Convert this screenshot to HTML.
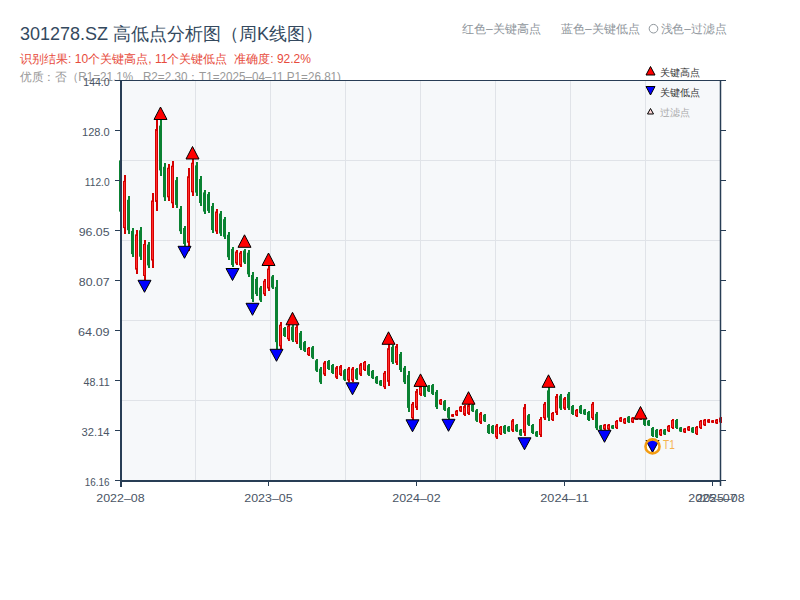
<!DOCTYPE html>
<html><head><meta charset="utf-8">
<style>
html,body{margin:0;padding:0;background:#fff;width:800px;height:600px;overflow:hidden;}
svg{position:absolute;left:0;top:0;}
text{font-family:"Liberation Sans",sans-serif;}
</style></head><body>
<svg width="800" height="600" viewBox="0 0 800 600">
<rect x="0" y="0" width="800" height="600" fill="#ffffff"/>
<text x="20" y="39.5" font-size="18" fill="#34495e">301278.SZ 高低点分析图（周K线图）</text>
<text x="462" y="33" font-size="12" fill="#8f969c" textLength="79" lengthAdjust="spacingAndGlyphs">红色–关键高点</text>
<text x="561" y="33" font-size="12" fill="#8f969c" textLength="79" lengthAdjust="spacingAndGlyphs">蓝色–关键低点</text>
<circle cx="653.5" cy="28.7" r="4.3" fill="none" stroke="#8f969c" stroke-width="1"/>
<text x="660.5" y="33" font-size="12" fill="#8f969c" textLength="66" lengthAdjust="spacingAndGlyphs">浅色–过滤点</text>
<text x="20" y="63" font-size="12" fill="#e74c3c" xml:space="preserve" textLength="291" lengthAdjust="spacingAndGlyphs">识别结果: 10个关键高点, 11个关键低点  准确度: 92.2%</text>
<text x="20" y="81" font-size="12" fill="#999999" xml:space="preserve" textLength="321" lengthAdjust="spacingAndGlyphs">优质：否（R1=21.1%   R2=2.30；T1=2025–04–11 P1=26.81)</text>
<rect x="121" y="80" width="599" height="401" fill="#f6f8fa"/>
<line x1="195.5" y1="81" x2="195.5" y2="480" stroke="#e0e3e8" stroke-width="1"/>
<line x1="270.5" y1="81" x2="270.5" y2="480" stroke="#e0e3e8" stroke-width="1"/>
<line x1="345.5" y1="81" x2="345.5" y2="480" stroke="#e0e3e8" stroke-width="1"/>
<line x1="420.5" y1="81" x2="420.5" y2="480" stroke="#e0e3e8" stroke-width="1"/>
<line x1="495.5" y1="81" x2="495.5" y2="480" stroke="#e0e3e8" stroke-width="1"/>
<line x1="570.5" y1="81" x2="570.5" y2="480" stroke="#e0e3e8" stroke-width="1"/>
<line x1="645.5" y1="81" x2="645.5" y2="480" stroke="#e0e3e8" stroke-width="1"/>
<line x1="122" y1="160.5" x2="720" y2="160.5" stroke="#e0e3e8" stroke-width="1"/>
<line x1="122" y1="240.5" x2="720" y2="240.5" stroke="#e0e3e8" stroke-width="1"/>
<line x1="122" y1="320.5" x2="720" y2="320.5" stroke="#e0e3e8" stroke-width="1"/>
<line x1="122" y1="400.5" x2="720" y2="400.5" stroke="#e0e3e8" stroke-width="1"/>
<g>
<rect x="120.00" y="154.0" width="2" height="64.0" fill="#0a8232"/>
<rect x="119.00" y="160.40" width="3" height="51.20" fill="#0a8232"/>
<rect x="124.00" y="175.0" width="2" height="59.0" fill="#d40000"/>
<rect x="123.50" y="181.40" width="2" height="46.20" fill="#ff2e2e" stroke="#d40000" stroke-width="1"/>
<rect x="128.00" y="196.0" width="2" height="38.0" fill="#0a8232"/>
<rect x="127.00" y="199.80" width="3" height="30.40" fill="#0a8232"/>
<rect x="132.00" y="228.0" width="2" height="29.0" fill="#0a8232"/>
<rect x="131.00" y="230.90" width="3" height="23.20" fill="#0a8232"/>
<rect x="136.00" y="230.0" width="2" height="44.0" fill="#d40000"/>
<rect x="135.50" y="234.90" width="2" height="34.20" fill="#ff2e2e" stroke="#d40000" stroke-width="1"/>
<rect x="140.00" y="227.0" width="2" height="33.0" fill="#0a8232"/>
<rect x="139.00" y="230.30" width="3" height="26.40" fill="#0a8232"/>
<rect x="144.00" y="240.0" width="2" height="40.0" fill="#d40000"/>
<rect x="143.50" y="244.50" width="2" height="31.00" fill="#ff2e2e" stroke="#d40000" stroke-width="1"/>
<rect x="148.00" y="242.0" width="2" height="26.0" fill="#0a8232"/>
<rect x="147.00" y="244.60" width="3" height="20.80" fill="#0a8232"/>
<rect x="152.00" y="193.0" width="2" height="75.0" fill="#d40000"/>
<rect x="151.50" y="201.00" width="2" height="59.00" fill="#ff2e2e" stroke="#d40000" stroke-width="1"/>
<rect x="156.00" y="120.0" width="2" height="91.0" fill="#d40000"/>
<rect x="155.50" y="129.60" width="2" height="71.80" fill="#ff2e2e" stroke="#d40000" stroke-width="1"/>
<rect x="160.00" y="120.0" width="2" height="56.0" fill="#0a8232"/>
<rect x="159.00" y="125.60" width="3" height="44.80" fill="#0a8232"/>
<rect x="164.00" y="163.0" width="2" height="38.0" fill="#0a8232"/>
<rect x="163.00" y="166.80" width="3" height="30.40" fill="#0a8232"/>
<rect x="168.00" y="164.0" width="2" height="37.0" fill="#d40000"/>
<rect x="167.50" y="168.20" width="2" height="28.60" fill="#ff2e2e" stroke="#d40000" stroke-width="1"/>
<rect x="172.00" y="161.0" width="2" height="47.0" fill="#d40000"/>
<rect x="171.50" y="166.20" width="2" height="36.60" fill="#ff2e2e" stroke="#d40000" stroke-width="1"/>
<rect x="176.00" y="177.0" width="2" height="31.0" fill="#0a8232"/>
<rect x="175.00" y="180.10" width="3" height="24.80" fill="#0a8232"/>
<rect x="180.00" y="206.0" width="2" height="28.0" fill="#0a8232"/>
<rect x="179.00" y="208.80" width="3" height="22.40" fill="#0a8232"/>
<rect x="184.00" y="226.0" width="2" height="20.0" fill="#0a8232"/>
<rect x="183.00" y="228.00" width="3" height="16.00" fill="#0a8232"/>
<rect x="188.00" y="168.0" width="2" height="83.0" fill="#d40000"/>
<rect x="187.50" y="176.80" width="2" height="65.40" fill="#ff2e2e" stroke="#d40000" stroke-width="1"/>
<rect x="192.00" y="159.0" width="2" height="37.0" fill="#d40000"/>
<rect x="191.50" y="163.20" width="2" height="28.60" fill="#ff2e2e" stroke="#d40000" stroke-width="1"/>
<rect x="196.00" y="162.0" width="2" height="34.0" fill="#0a8232"/>
<rect x="195.00" y="165.40" width="3" height="27.20" fill="#0a8232"/>
<rect x="200.00" y="176.0" width="2" height="30.0" fill="#0a8232"/>
<rect x="199.00" y="179.00" width="3" height="24.00" fill="#0a8232"/>
<rect x="204.00" y="190.0" width="2" height="24.0" fill="#0a8232"/>
<rect x="203.00" y="192.40" width="3" height="19.20" fill="#0a8232"/>
<rect x="208.00" y="192.0" width="2" height="21.0" fill="#0a8232"/>
<rect x="207.00" y="194.10" width="3" height="16.80" fill="#0a8232"/>
<rect x="212.00" y="203.0" width="2" height="30.0" fill="#0a8232"/>
<rect x="211.00" y="206.00" width="3" height="24.00" fill="#0a8232"/>
<rect x="216.00" y="209.0" width="2" height="25.0" fill="#d40000"/>
<rect x="215.50" y="212.00" width="2" height="19.00" fill="#ff2e2e" stroke="#d40000" stroke-width="1"/>
<rect x="220.00" y="211.0" width="2" height="25.0" fill="#0a8232"/>
<rect x="219.00" y="213.50" width="3" height="20.00" fill="#0a8232"/>
<rect x="224.00" y="217.0" width="2" height="22.0" fill="#0a8232"/>
<rect x="223.00" y="219.20" width="3" height="17.60" fill="#0a8232"/>
<rect x="228.00" y="232.0" width="2" height="28.0" fill="#0a8232"/>
<rect x="227.00" y="234.80" width="3" height="22.40" fill="#0a8232"/>
<rect x="232.00" y="247.0" width="2" height="20.0" fill="#0a8232"/>
<rect x="231.00" y="249.00" width="3" height="16.00" fill="#0a8232"/>
<rect x="236.00" y="250.0" width="2" height="15.0" fill="#d40000"/>
<rect x="235.50" y="252.00" width="2" height="11.00" fill="#ff2e2e" stroke="#d40000" stroke-width="1"/>
<rect x="240.00" y="251.0" width="2" height="16.0" fill="#d40000"/>
<rect x="239.50" y="253.10" width="2" height="11.80" fill="#ff2e2e" stroke="#d40000" stroke-width="1"/>
<rect x="244.00" y="249.0" width="2" height="15.0" fill="#0a8232"/>
<rect x="243.00" y="250.50" width="3" height="12.00" fill="#0a8232"/>
<rect x="248.00" y="250.0" width="2" height="27.0" fill="#0a8232"/>
<rect x="247.00" y="252.70" width="3" height="21.60" fill="#0a8232"/>
<rect x="252.00" y="272.0" width="2" height="30.0" fill="#0a8232"/>
<rect x="251.00" y="275.00" width="3" height="24.00" fill="#0a8232"/>
<rect x="256.00" y="277.0" width="2" height="19.0" fill="#0a8232"/>
<rect x="255.00" y="278.90" width="3" height="15.20" fill="#0a8232"/>
<rect x="260.00" y="286.0" width="2" height="16.0" fill="#0a8232"/>
<rect x="259.00" y="287.60" width="3" height="12.80" fill="#0a8232"/>
<rect x="264.00" y="279.0" width="2" height="17.0" fill="#d40000"/>
<rect x="263.50" y="281.20" width="2" height="12.60" fill="#ff2e2e" stroke="#d40000" stroke-width="1"/>
<rect x="268.00" y="266.0" width="2" height="25.0" fill="#d40000"/>
<rect x="267.50" y="269.00" width="2" height="19.00" fill="#ff2e2e" stroke="#d40000" stroke-width="1"/>
<rect x="272.00" y="275.0" width="2" height="14.0" fill="#0a8232"/>
<rect x="271.00" y="276.40" width="3" height="11.20" fill="#0a8232"/>
<rect x="276.00" y="280.0" width="2" height="69.0" fill="#0a8232"/>
<rect x="275.00" y="286.90" width="3" height="55.20" fill="#0a8232"/>
<rect x="280.00" y="322.0" width="2" height="27.0" fill="#d40000"/>
<rect x="279.50" y="325.20" width="2" height="20.60" fill="#ff2e2e" stroke="#d40000" stroke-width="1"/>
<rect x="284.00" y="327.0" width="2" height="10.0" fill="#0a8232"/>
<rect x="283.00" y="328.00" width="3" height="8.00" fill="#0a8232"/>
<rect x="288.00" y="324.0" width="2" height="17.0" fill="#d40000"/>
<rect x="287.50" y="326.20" width="2" height="12.60" fill="#ff2e2e" stroke="#d40000" stroke-width="1"/>
<rect x="292.00" y="325.0" width="2" height="17.0" fill="#0a8232"/>
<rect x="291.00" y="326.70" width="3" height="13.60" fill="#0a8232"/>
<rect x="296.00" y="325.0" width="2" height="19.0" fill="#d40000"/>
<rect x="295.50" y="327.40" width="2" height="14.20" fill="#ff2e2e" stroke="#d40000" stroke-width="1"/>
<rect x="300.00" y="331.0" width="2" height="19.0" fill="#0a8232"/>
<rect x="299.00" y="332.90" width="3" height="15.20" fill="#0a8232"/>
<rect x="304.00" y="341.0" width="2" height="11.0" fill="#0a8232"/>
<rect x="303.00" y="342.10" width="3" height="8.80" fill="#0a8232"/>
<rect x="308.00" y="347.0" width="2" height="9.0" fill="#d40000"/>
<rect x="307.50" y="348.40" width="2" height="6.20" fill="#ff2e2e" stroke="#d40000" stroke-width="1"/>
<rect x="312.00" y="346.0" width="2" height="13.0" fill="#0a8232"/>
<rect x="311.00" y="347.30" width="3" height="10.40" fill="#0a8232"/>
<rect x="316.00" y="359.0" width="2" height="13.0" fill="#0a8232"/>
<rect x="315.00" y="360.30" width="3" height="10.40" fill="#0a8232"/>
<rect x="320.00" y="367.0" width="2" height="17.0" fill="#0a8232"/>
<rect x="319.00" y="368.70" width="3" height="13.60" fill="#0a8232"/>
<rect x="324.00" y="361.0" width="2" height="15.0" fill="#d40000"/>
<rect x="323.50" y="363.00" width="2" height="11.00" fill="#ff2e2e" stroke="#d40000" stroke-width="1"/>
<rect x="328.00" y="360.0" width="2" height="10.0" fill="#0a8232"/>
<rect x="327.00" y="361.00" width="3" height="8.00" fill="#0a8232"/>
<rect x="332.00" y="364.0" width="2" height="10.0" fill="#0a8232"/>
<rect x="331.00" y="365.00" width="3" height="8.00" fill="#0a8232"/>
<rect x="336.00" y="366.0" width="2" height="13.0" fill="#d40000"/>
<rect x="335.50" y="367.80" width="2" height="9.40" fill="#ff2e2e" stroke="#d40000" stroke-width="1"/>
<rect x="340.00" y="365.0" width="2" height="11.0" fill="#d40000"/>
<rect x="339.50" y="366.60" width="2" height="7.80" fill="#ff2e2e" stroke="#d40000" stroke-width="1"/>
<rect x="344.00" y="369.0" width="2" height="12.0" fill="#0a8232"/>
<rect x="343.00" y="370.20" width="3" height="9.60" fill="#0a8232"/>
<rect x="348.00" y="367.0" width="2" height="15.0" fill="#d40000"/>
<rect x="347.50" y="369.00" width="2" height="11.00" fill="#ff2e2e" stroke="#d40000" stroke-width="1"/>
<rect x="352.00" y="367.0" width="2" height="15.0" fill="#d40000"/>
<rect x="351.50" y="369.00" width="2" height="11.00" fill="#ff2e2e" stroke="#d40000" stroke-width="1"/>
<rect x="356.00" y="368.0" width="2" height="12.0" fill="#0a8232"/>
<rect x="355.00" y="369.20" width="3" height="9.60" fill="#0a8232"/>
<rect x="360.00" y="363.0" width="2" height="13.0" fill="#d40000"/>
<rect x="359.50" y="364.80" width="2" height="9.40" fill="#ff2e2e" stroke="#d40000" stroke-width="1"/>
<rect x="364.00" y="361.0" width="2" height="10.0" fill="#d40000"/>
<rect x="363.50" y="362.50" width="2" height="7.00" fill="#ff2e2e" stroke="#d40000" stroke-width="1"/>
<rect x="368.00" y="364.0" width="2" height="12.0" fill="#0a8232"/>
<rect x="367.00" y="365.20" width="3" height="9.60" fill="#0a8232"/>
<rect x="372.00" y="370.0" width="2" height="9.0" fill="#0a8232"/>
<rect x="371.00" y="370.90" width="3" height="7.20" fill="#0a8232"/>
<rect x="376.00" y="376.0" width="2" height="8.0" fill="#0a8232"/>
<rect x="375.00" y="376.80" width="3" height="6.40" fill="#0a8232"/>
<rect x="380.00" y="380.0" width="2" height="6.0" fill="#0a8232"/>
<rect x="379.00" y="380.60" width="3" height="4.80" fill="#0a8232"/>
<rect x="384.00" y="371.0" width="2" height="18.0" fill="#d40000"/>
<rect x="383.50" y="373.30" width="2" height="13.40" fill="#ff2e2e" stroke="#d40000" stroke-width="1"/>
<rect x="388.00" y="344.0" width="2" height="42.0" fill="#d40000"/>
<rect x="387.50" y="348.70" width="2" height="32.60" fill="#ff2e2e" stroke="#d40000" stroke-width="1"/>
<rect x="392.00" y="345.0" width="2" height="19.0" fill="#0a8232"/>
<rect x="391.00" y="346.90" width="3" height="15.20" fill="#0a8232"/>
<rect x="396.00" y="344.0" width="2" height="21.0" fill="#d40000"/>
<rect x="395.50" y="346.60" width="2" height="15.80" fill="#ff2e2e" stroke="#d40000" stroke-width="1"/>
<rect x="400.00" y="352.0" width="2" height="20.0" fill="#0a8232"/>
<rect x="399.00" y="354.00" width="3" height="16.00" fill="#0a8232"/>
<rect x="404.00" y="366.0" width="2" height="18.0" fill="#0a8232"/>
<rect x="403.00" y="367.80" width="3" height="14.40" fill="#0a8232"/>
<rect x="408.00" y="371.0" width="2" height="41.0" fill="#0a8232"/>
<rect x="407.00" y="375.10" width="3" height="32.80" fill="#0a8232"/>
<rect x="412.00" y="402.0" width="2" height="18.0" fill="#d40000"/>
<rect x="411.50" y="404.30" width="2" height="13.40" fill="#ff2e2e" stroke="#d40000" stroke-width="1"/>
<rect x="416.00" y="389.0" width="2" height="21.0" fill="#d40000"/>
<rect x="415.50" y="391.60" width="2" height="15.80" fill="#ff2e2e" stroke="#d40000" stroke-width="1"/>
<rect x="420.00" y="385.0" width="2" height="11.0" fill="#d40000"/>
<rect x="419.50" y="386.60" width="2" height="7.80" fill="#ff2e2e" stroke="#d40000" stroke-width="1"/>
<rect x="424.00" y="385.0" width="2" height="12.0" fill="#0a8232"/>
<rect x="423.00" y="386.20" width="3" height="9.60" fill="#0a8232"/>
<rect x="428.00" y="385.0" width="2" height="7.0" fill="#0a8232"/>
<rect x="427.00" y="385.70" width="3" height="5.60" fill="#0a8232"/>
<rect x="432.00" y="384.0" width="2" height="11.0" fill="#0a8232"/>
<rect x="431.00" y="385.10" width="3" height="8.80" fill="#0a8232"/>
<rect x="436.00" y="390.0" width="2" height="19.0" fill="#0a8232"/>
<rect x="435.00" y="391.90" width="3" height="15.20" fill="#0a8232"/>
<rect x="440.00" y="399.0" width="2" height="6.0" fill="#d40000"/>
<rect x="439.50" y="400.10" width="2" height="3.80" fill="#ff2e2e" stroke="#d40000" stroke-width="1"/>
<rect x="444.00" y="400.0" width="2" height="11.0" fill="#0a8232"/>
<rect x="443.00" y="401.10" width="3" height="8.80" fill="#0a8232"/>
<rect x="448.00" y="407.0" width="2" height="12.0" fill="#0a8232"/>
<rect x="447.00" y="408.20" width="3" height="9.60" fill="#0a8232"/>
<rect x="452.00" y="414.0" width="2" height="3.0" fill="#d40000"/>
<rect x="451.50" y="414.80" width="2" height="1.40" fill="#ff2e2e" stroke="#d40000" stroke-width="1"/>
<rect x="456.00" y="410.0" width="2" height="6.0" fill="#d40000"/>
<rect x="455.50" y="411.10" width="2" height="3.80" fill="#ff2e2e" stroke="#d40000" stroke-width="1"/>
<rect x="460.00" y="406.0" width="2" height="6.0" fill="#d40000"/>
<rect x="459.50" y="407.10" width="2" height="3.80" fill="#ff2e2e" stroke="#d40000" stroke-width="1"/>
<rect x="464.00" y="405.0" width="2" height="11.0" fill="#d40000"/>
<rect x="463.50" y="406.60" width="2" height="7.80" fill="#ff2e2e" stroke="#d40000" stroke-width="1"/>
<rect x="468.00" y="404.0" width="2" height="11.0" fill="#d40000"/>
<rect x="467.50" y="405.60" width="2" height="7.80" fill="#ff2e2e" stroke="#d40000" stroke-width="1"/>
<rect x="472.00" y="404.0" width="2" height="8.0" fill="#0a8232"/>
<rect x="471.00" y="404.80" width="3" height="6.40" fill="#0a8232"/>
<rect x="476.00" y="409.0" width="2" height="13.0" fill="#0a8232"/>
<rect x="475.00" y="410.30" width="3" height="10.40" fill="#0a8232"/>
<rect x="480.00" y="412.0" width="2" height="12.0" fill="#d40000"/>
<rect x="479.50" y="413.70" width="2" height="8.60" fill="#ff2e2e" stroke="#d40000" stroke-width="1"/>
<rect x="484.00" y="414.0" width="2" height="8.0" fill="#0a8232"/>
<rect x="483.00" y="414.80" width="3" height="6.40" fill="#0a8232"/>
<rect x="488.00" y="424.0" width="2" height="10.0" fill="#0a8232"/>
<rect x="487.00" y="425.00" width="3" height="8.00" fill="#0a8232"/>
<rect x="492.00" y="425.0" width="2" height="9.0" fill="#0a8232"/>
<rect x="491.00" y="425.90" width="3" height="7.20" fill="#0a8232"/>
<rect x="496.00" y="424.0" width="2" height="15.0" fill="#d40000"/>
<rect x="495.50" y="426.00" width="2" height="11.00" fill="#ff2e2e" stroke="#d40000" stroke-width="1"/>
<rect x="500.00" y="426.0" width="2" height="9.0" fill="#d40000"/>
<rect x="499.50" y="427.40" width="2" height="6.20" fill="#ff2e2e" stroke="#d40000" stroke-width="1"/>
<rect x="504.00" y="425.0" width="2" height="9.0" fill="#0a8232"/>
<rect x="503.00" y="425.90" width="3" height="7.20" fill="#0a8232"/>
<rect x="508.00" y="426.0" width="2" height="6.0" fill="#0a8232"/>
<rect x="507.00" y="426.60" width="3" height="4.80" fill="#0a8232"/>
<rect x="512.00" y="419.0" width="2" height="13.0" fill="#d40000"/>
<rect x="511.50" y="420.80" width="2" height="9.40" fill="#ff2e2e" stroke="#d40000" stroke-width="1"/>
<rect x="516.00" y="424.0" width="2" height="8.0" fill="#0a8232"/>
<rect x="515.00" y="424.80" width="3" height="6.40" fill="#0a8232"/>
<rect x="520.00" y="429.0" width="2" height="7.0" fill="#0a8232"/>
<rect x="519.00" y="429.70" width="3" height="5.60" fill="#0a8232"/>
<rect x="524.00" y="404.0" width="2" height="32.0" fill="#d40000"/>
<rect x="523.50" y="407.70" width="2" height="24.60" fill="#ff2e2e" stroke="#d40000" stroke-width="1"/>
<rect x="528.00" y="414.0" width="2" height="12.0" fill="#0a8232"/>
<rect x="527.00" y="415.20" width="3" height="9.60" fill="#0a8232"/>
<rect x="532.00" y="424.0" width="2" height="10.0" fill="#0a8232"/>
<rect x="531.00" y="425.00" width="3" height="8.00" fill="#0a8232"/>
<rect x="536.00" y="431.0" width="2" height="6.0" fill="#0a8232"/>
<rect x="535.00" y="431.60" width="3" height="4.80" fill="#0a8232"/>
<rect x="540.00" y="417.0" width="2" height="20.0" fill="#d40000"/>
<rect x="539.50" y="419.50" width="2" height="15.00" fill="#ff2e2e" stroke="#d40000" stroke-width="1"/>
<rect x="544.00" y="402.0" width="2" height="18.0" fill="#d40000"/>
<rect x="543.50" y="404.30" width="2" height="13.40" fill="#ff2e2e" stroke="#d40000" stroke-width="1"/>
<rect x="548.00" y="387.0" width="2" height="34.0" fill="#0a8232"/>
<rect x="547.00" y="390.40" width="3" height="27.20" fill="#0a8232"/>
<rect x="552.00" y="412.0" width="2" height="9.0" fill="#d40000"/>
<rect x="551.50" y="413.40" width="2" height="6.20" fill="#ff2e2e" stroke="#d40000" stroke-width="1"/>
<rect x="556.00" y="394.0" width="2" height="21.0" fill="#d40000"/>
<rect x="555.50" y="396.60" width="2" height="15.80" fill="#ff2e2e" stroke="#d40000" stroke-width="1"/>
<rect x="560.00" y="394.0" width="2" height="16.0" fill="#0a8232"/>
<rect x="559.00" y="395.60" width="3" height="12.80" fill="#0a8232"/>
<rect x="564.00" y="397.0" width="2" height="13.0" fill="#d40000"/>
<rect x="563.50" y="398.80" width="2" height="9.40" fill="#ff2e2e" stroke="#d40000" stroke-width="1"/>
<rect x="568.00" y="392.0" width="2" height="18.0" fill="#0a8232"/>
<rect x="567.00" y="393.80" width="3" height="14.40" fill="#0a8232"/>
<rect x="572.00" y="405.0" width="2" height="10.0" fill="#0a8232"/>
<rect x="571.00" y="406.00" width="3" height="8.00" fill="#0a8232"/>
<rect x="576.00" y="409.0" width="2" height="8.0" fill="#d40000"/>
<rect x="575.50" y="410.30" width="2" height="5.40" fill="#ff2e2e" stroke="#d40000" stroke-width="1"/>
<rect x="580.00" y="405.0" width="2" height="9.0" fill="#0a8232"/>
<rect x="579.00" y="405.90" width="3" height="7.20" fill="#0a8232"/>
<rect x="584.00" y="409.0" width="2" height="6.0" fill="#0a8232"/>
<rect x="583.00" y="409.60" width="3" height="4.80" fill="#0a8232"/>
<rect x="588.00" y="411.0" width="2" height="10.0" fill="#0a8232"/>
<rect x="587.00" y="412.00" width="3" height="8.00" fill="#0a8232"/>
<rect x="592.00" y="402.0" width="2" height="18.0" fill="#d40000"/>
<rect x="591.50" y="404.30" width="2" height="13.40" fill="#ff2e2e" stroke="#d40000" stroke-width="1"/>
<rect x="596.00" y="412.0" width="2" height="18.0" fill="#0a8232"/>
<rect x="595.00" y="413.80" width="3" height="14.40" fill="#0a8232"/>
<rect x="600.00" y="425.0" width="2" height="5.0" fill="#0a8232"/>
<rect x="599.00" y="425.50" width="3" height="4.00" fill="#0a8232"/>
<rect x="604.00" y="424.0" width="2" height="6.0" fill="#d40000"/>
<rect x="603.50" y="425.10" width="2" height="3.80" fill="#ff2e2e" stroke="#d40000" stroke-width="1"/>
<rect x="608.00" y="424.0" width="2" height="6.0" fill="#d40000"/>
<rect x="607.50" y="425.10" width="2" height="3.80" fill="#ff2e2e" stroke="#d40000" stroke-width="1"/>
<rect x="612.00" y="425.0" width="2" height="4.0" fill="#0a8232"/>
<rect x="611.00" y="425.40" width="3" height="3.20" fill="#0a8232"/>
<rect x="616.00" y="420.0" width="2" height="9.0" fill="#d40000"/>
<rect x="615.50" y="421.40" width="2" height="6.20" fill="#ff2e2e" stroke="#d40000" stroke-width="1"/>
<rect x="620.00" y="417.0" width="2" height="5.0" fill="#d40000"/>
<rect x="619.50" y="418.00" width="2" height="3.00" fill="#ff2e2e" stroke="#d40000" stroke-width="1"/>
<rect x="624.00" y="418.0" width="2" height="6.0" fill="#d40000"/>
<rect x="623.50" y="419.10" width="2" height="3.80" fill="#ff2e2e" stroke="#d40000" stroke-width="1"/>
<rect x="628.00" y="416.0" width="2" height="7.0" fill="#0a8232"/>
<rect x="627.00" y="416.70" width="3" height="5.60" fill="#0a8232"/>
<rect x="632.00" y="417.0" width="2" height="6.0" fill="#d40000"/>
<rect x="631.50" y="418.10" width="2" height="3.80" fill="#ff2e2e" stroke="#d40000" stroke-width="1"/>
<rect x="636.00" y="418.0" width="2" height="2.0" fill="#d40000"/>
<rect x="635.50" y="418.70" width="2" height="0.60" fill="#ff2e2e" stroke="#d40000" stroke-width="1"/>
<rect x="640.00" y="415.0" width="2" height="5.0" fill="#d40000"/>
<rect x="639.50" y="416.00" width="2" height="3.00" fill="#ff2e2e" stroke="#d40000" stroke-width="1"/>
<rect x="644.00" y="415.0" width="2" height="11.0" fill="#0a8232"/>
<rect x="643.00" y="416.10" width="3" height="8.80" fill="#0a8232"/>
<rect x="648.00" y="420.0" width="2" height="6.0" fill="#0a8232"/>
<rect x="647.00" y="420.60" width="3" height="4.80" fill="#0a8232"/>
<rect x="652.00" y="427.0" width="2" height="10.0" fill="#0a8232"/>
<rect x="651.00" y="428.00" width="3" height="8.00" fill="#0a8232"/>
<rect x="656.00" y="429.0" width="2" height="9.0" fill="#0a8232"/>
<rect x="655.00" y="429.90" width="3" height="7.20" fill="#0a8232"/>
<rect x="660.00" y="429.0" width="2" height="7.0" fill="#d40000"/>
<rect x="659.50" y="430.20" width="2" height="4.60" fill="#ff2e2e" stroke="#d40000" stroke-width="1"/>
<rect x="664.00" y="429.0" width="2" height="6.0" fill="#0a8232"/>
<rect x="663.00" y="429.60" width="3" height="4.80" fill="#0a8232"/>
<rect x="668.00" y="425.0" width="2" height="7.0" fill="#d40000"/>
<rect x="667.50" y="426.20" width="2" height="4.60" fill="#ff2e2e" stroke="#d40000" stroke-width="1"/>
<rect x="672.00" y="419.0" width="2" height="10.0" fill="#d40000"/>
<rect x="671.50" y="420.50" width="2" height="7.00" fill="#ff2e2e" stroke="#d40000" stroke-width="1"/>
<rect x="676.00" y="419.0" width="2" height="10.0" fill="#0a8232"/>
<rect x="675.00" y="420.00" width="3" height="8.00" fill="#0a8232"/>
<rect x="680.00" y="427.0" width="2" height="5.0" fill="#0a8232"/>
<rect x="679.00" y="427.50" width="3" height="4.00" fill="#0a8232"/>
<rect x="684.00" y="428.0" width="2" height="5.0" fill="#d40000"/>
<rect x="683.50" y="429.00" width="2" height="3.00" fill="#ff2e2e" stroke="#d40000" stroke-width="1"/>
<rect x="688.00" y="426.0" width="2" height="5.0" fill="#d40000"/>
<rect x="687.50" y="427.00" width="2" height="3.00" fill="#ff2e2e" stroke="#d40000" stroke-width="1"/>
<rect x="692.00" y="427.0" width="2" height="6.0" fill="#0a8232"/>
<rect x="691.00" y="427.60" width="3" height="4.80" fill="#0a8232"/>
<rect x="696.00" y="426.0" width="2" height="9.0" fill="#d40000"/>
<rect x="695.50" y="427.40" width="2" height="6.20" fill="#ff2e2e" stroke="#d40000" stroke-width="1"/>
<rect x="700.00" y="420.0" width="2" height="9.0" fill="#d40000"/>
<rect x="699.50" y="421.40" width="2" height="6.20" fill="#ff2e2e" stroke="#d40000" stroke-width="1"/>
<rect x="704.00" y="419.0" width="2" height="7.0" fill="#d40000"/>
<rect x="703.50" y="420.20" width="2" height="4.60" fill="#ff2e2e" stroke="#d40000" stroke-width="1"/>
<rect x="708.00" y="419.0" width="2" height="4.0" fill="#d40000"/>
<rect x="707.50" y="419.90" width="2" height="2.20" fill="#ff2e2e" stroke="#d40000" stroke-width="1"/>
<rect x="712.00" y="420.0" width="2" height="3.0" fill="#d40000"/>
<rect x="711.50" y="420.80" width="2" height="1.40" fill="#ff2e2e" stroke="#d40000" stroke-width="1"/>
<rect x="716.00" y="419.0" width="2" height="5.0" fill="#d40000"/>
<rect x="715.50" y="420.00" width="2" height="3.00" fill="#ff2e2e" stroke="#d40000" stroke-width="1"/>
<rect x="720.00" y="417.0" width="2" height="6.0" fill="#d40000"/>
<rect x="719.50" y="418.10" width="2" height="3.80" fill="#ff2e2e" stroke="#d40000" stroke-width="1"/>
</g>
<circle cx="652.5" cy="446.4" r="7" fill="#ffffff"/>
<path d="M154.00 119.5 L167.00 119.5 L160.50 107.0 Z" fill="#ff0000" stroke="#000" stroke-width="1"/>
<path d="M186.00 159 L199.00 159 L192.50 146.5 Z" fill="#ff0000" stroke="#000" stroke-width="1"/>
<path d="M238.00 247.3 L251.00 247.3 L244.50 234.8 Z" fill="#ff0000" stroke="#000" stroke-width="1"/>
<path d="M262.00 265.5 L275.00 265.5 L268.50 253.0 Z" fill="#ff0000" stroke="#000" stroke-width="1"/>
<path d="M286.00 324.8 L299.00 324.8 L292.50 312.3 Z" fill="#ff0000" stroke="#000" stroke-width="1"/>
<path d="M382.00 344.3 L395.00 344.3 L388.50 331.8 Z" fill="#ff0000" stroke="#000" stroke-width="1"/>
<path d="M414.00 386.4 L427.00 386.4 L420.50 373.9 Z" fill="#ff0000" stroke="#000" stroke-width="1"/>
<path d="M462.00 404.2 L475.00 404.2 L468.50 391.7 Z" fill="#ff0000" stroke="#000" stroke-width="1"/>
<path d="M542.00 387.3 L555.00 387.3 L548.50 374.8 Z" fill="#ff0000" stroke="#000" stroke-width="1"/>
<path d="M634.00 419 L647.00 419 L640.50 406.5 Z" fill="#ff0000" stroke="#000" stroke-width="1"/>
<path d="M138.00 280.3 L151.00 280.3 L144.50 292.3 Z" fill="#0000ff" stroke="#000" stroke-width="1"/>
<path d="M178.00 246.3 L191.00 246.3 L184.50 258.3 Z" fill="#0000ff" stroke="#000" stroke-width="1"/>
<path d="M226.00 268.5 L239.00 268.5 L232.50 280.5 Z" fill="#0000ff" stroke="#000" stroke-width="1"/>
<path d="M246.00 303.3 L259.00 303.3 L252.50 315.3 Z" fill="#0000ff" stroke="#000" stroke-width="1"/>
<path d="M270.00 349.3 L283.00 349.3 L276.50 361.3 Z" fill="#0000ff" stroke="#000" stroke-width="1"/>
<path d="M346.00 382.8 L359.00 382.8 L352.50 394.8 Z" fill="#0000ff" stroke="#000" stroke-width="1"/>
<path d="M406.00 419.8 L419.00 419.8 L412.50 431.8 Z" fill="#0000ff" stroke="#000" stroke-width="1"/>
<path d="M442.00 419.3 L455.00 419.3 L448.50 431.3 Z" fill="#0000ff" stroke="#000" stroke-width="1"/>
<path d="M518.00 437.8 L531.00 437.8 L524.50 449.8 Z" fill="#0000ff" stroke="#000" stroke-width="1"/>
<path d="M598.00 430.3 L611.00 430.3 L604.50 442.3 Z" fill="#0000ff" stroke="#000" stroke-width="1"/>
<path d="M646.00 440.5 L659.00 440.5 L652.50 452.5 Z" fill="#0000ff" stroke="#000" stroke-width="1"/>
<circle cx="652.5" cy="446.4" r="7" fill="none" stroke="#f39c12" stroke-width="2.6"/>
<text x="663" y="449.3" font-size="12.5" fill="#f4b24e" textLength="11.8" lengthAdjust="spacingAndGlyphs">T1</text>
<line x1="115" y1="80.5" x2="726" y2="80.5" stroke="#283d55" stroke-width="1"/>
<line x1="720.5" y1="80" x2="720.5" y2="486" stroke="#283d55" stroke-width="1.5"/>
<line x1="121" y1="80" x2="121" y2="487" stroke="#283d55" stroke-width="2"/>
<line x1="120" y1="481" x2="721" y2="481" stroke="#283d55" stroke-width="2"/>
<g font-size="11" fill="#4a5565">
<text x="83.3" y="85.5" textLength="26.3" lengthAdjust="spacingAndGlyphs" font-size="11.5">144.0</text>
<line x1="115" y1="80.5" x2="121" y2="80.5" stroke="#283d55" stroke-width="1"/>
<line x1="721" y1="80.5" x2="726" y2="80.5" stroke="#283d55" stroke-width="1"/>
<text x="82.0" y="135.5" textLength="27.6" lengthAdjust="spacingAndGlyphs" font-size="11.5">128.0</text>
<line x1="115" y1="130.5" x2="121" y2="130.5" stroke="#283d55" stroke-width="1"/>
<line x1="721" y1="130.5" x2="726" y2="130.5" stroke="#283d55" stroke-width="1"/>
<text x="84.8" y="185.5" textLength="24.8" lengthAdjust="spacingAndGlyphs" font-size="11.5">112.0</text>
<line x1="115" y1="180.5" x2="121" y2="180.5" stroke="#283d55" stroke-width="1"/>
<line x1="721" y1="180.5" x2="726" y2="180.5" stroke="#283d55" stroke-width="1"/>
<text x="78.7" y="235.5" textLength="30.9" lengthAdjust="spacingAndGlyphs" font-size="11.5">96.05</text>
<line x1="115" y1="230.5" x2="121" y2="230.5" stroke="#283d55" stroke-width="1"/>
<line x1="721" y1="230.5" x2="726" y2="230.5" stroke="#283d55" stroke-width="1"/>
<text x="78.8" y="285.5" textLength="30.8" lengthAdjust="spacingAndGlyphs" font-size="11.5">80.07</text>
<line x1="115" y1="280.5" x2="121" y2="280.5" stroke="#283d55" stroke-width="1"/>
<line x1="721" y1="280.5" x2="726" y2="280.5" stroke="#283d55" stroke-width="1"/>
<text x="78.0" y="335.5" textLength="31.6" lengthAdjust="spacingAndGlyphs" font-size="11.5">64.09</text>
<line x1="115" y1="330.5" x2="121" y2="330.5" stroke="#283d55" stroke-width="1"/>
<line x1="721" y1="330.5" x2="726" y2="330.5" stroke="#283d55" stroke-width="1"/>
<text x="83.6" y="385.5" textLength="26" lengthAdjust="spacingAndGlyphs" font-size="11.5">48.11</text>
<line x1="115" y1="380.5" x2="121" y2="380.5" stroke="#283d55" stroke-width="1"/>
<line x1="721" y1="380.5" x2="726" y2="380.5" stroke="#283d55" stroke-width="1"/>
<text x="81.6" y="435.5" textLength="28" lengthAdjust="spacingAndGlyphs" font-size="11.5">32.14</text>
<line x1="115" y1="430.5" x2="121" y2="430.5" stroke="#283d55" stroke-width="1"/>
<line x1="721" y1="430.5" x2="726" y2="430.5" stroke="#283d55" stroke-width="1"/>
<text x="84.8" y="485.5" textLength="24.8" lengthAdjust="spacingAndGlyphs" font-size="11.5">16.16</text>
<line x1="115" y1="480.5" x2="121" y2="480.5" stroke="#283d55" stroke-width="1"/>
<line x1="721" y1="480.5" x2="726" y2="480.5" stroke="#283d55" stroke-width="1"/>
<text x="96.3" y="502" textLength="48.4" lengthAdjust="spacingAndGlyphs">2022–08</text>
<line x1="120.5" y1="481" x2="120.5" y2="486" stroke="#283d55" stroke-width="1"/>
<text x="244.3" y="502" textLength="48.4" lengthAdjust="spacingAndGlyphs">2023–05</text>
<line x1="268.5" y1="481" x2="268.5" y2="486" stroke="#283d55" stroke-width="1"/>
<text x="392.3" y="502" textLength="48.4" lengthAdjust="spacingAndGlyphs">2024–02</text>
<line x1="416.5" y1="481" x2="416.5" y2="486" stroke="#283d55" stroke-width="1"/>
<text x="540.3" y="502" textLength="48.4" lengthAdjust="spacingAndGlyphs">2024–11</text>
<line x1="564.5" y1="481" x2="564.5" y2="486" stroke="#283d55" stroke-width="1"/>
<text x="688.3" y="502" textLength="48.4" lengthAdjust="spacingAndGlyphs">2025–07</text>
<line x1="712.5" y1="481" x2="712.5" y2="486" stroke="#283d55" stroke-width="1"/>
<text x="696.3" y="502" textLength="48.4" lengthAdjust="spacingAndGlyphs">2025–08</text>
<line x1="720.5" y1="481" x2="720.5" y2="486" stroke="#283d55" stroke-width="1"/>
</g>
<path d="M646 75 L655 75 L650.5 66.5 Z" fill="#ff0000" stroke="#000" stroke-width="1"/>
<text x="660" y="76" font-size="10" fill="#333">关键高点</text>
<path d="M646 86.5 L655 86.5 L650.5 95 Z" fill="#0000ff" stroke="#000" stroke-width="1"/>
<text x="660" y="96" font-size="10" fill="#333">关键低点</text>
<path d="M647.5 114 L653.5 114 L650.5 108.5 Z" fill="#fcd5d5" stroke="#000" stroke-width="1"/>
<text x="660" y="116" font-size="10" fill="#aaa">过滤点</text>
</svg>
</body></html>
